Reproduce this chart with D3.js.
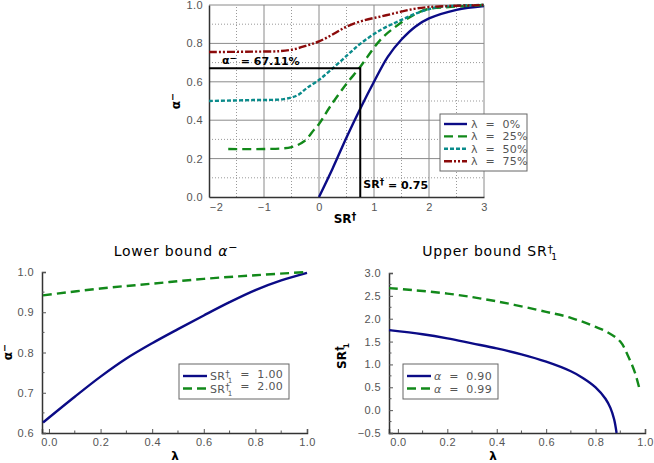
<!DOCTYPE html>
<html>
<head>
<meta charset="utf-8">
<title>Bounds</title>
<script src="https://d3js.org/d3.v7.min.js"></script>
<style>
 html, body { margin: 0; padding: 0; background: white; }
 svg { font-family: "DejaVu Sans", sans-serif; }
 .tick-label { fill: #555; font-size: 11px; letter-spacing: 0.4px; }
 .axis-title { fill: #000; font-size: 12px; font-weight: bold; }
 .plot-title { fill: #000; font-size: 14px; letter-spacing: 0.8px; }
 .legend-text { fill: #555; font-size: 11px; letter-spacing: 0.3px; }
</style>
</head>
<body>
<svg id="chart" width="654" height="463"></svg>
<script>
// ---- top chart: alpha- vs SR† for several lambda ----
const lambdaNames = ["0%", "25%", "50%", "75%"];
const srX0   = [0, 0.25, 0.5, 0.75, 1, 1.25, 1.5, 1.75, 2, 2.5, 3];
const alpha0 = [0, 0.15, 0.31, 0.46, 0.60, 0.73, 0.82, 0.887, 0.93, 0.975, 0.995];
const srX25   = [-1.65, -1.0, -0.5, -0.27, -0.09, 0, 0.2, 0.5, 0.73, 0.88, 1.12, 1.36, 1.73, 2, 2.4, 3];
const alpha25 = [0.25, 0.25, 0.26, 0.29, 0.35, 0.38, 0.47, 0.59, 0.67, 0.73, 0.82, 0.88, 0.95, 0.98, 0.99, 1.0];
const srX50   = [-2, -1.2, -0.64, -0.39, -0.21, 0, 0.21, 0.52, 0.76, 1.12, 1.48, 1.85, 2.2, 3];
const alpha50 = [0.50, 0.505, 0.51, 0.53, 0.57, 0.61, 0.66, 0.74, 0.80, 0.87, 0.92, 0.965, 0.99, 1.0];
const srX75   = [-2, -1.2, -0.7, -0.45, -0.21, 0, 0.27, 0.52, 0.82, 1.12, 1.42, 1.73, 2.03, 3];
const alpha75 = [0.755, 0.757, 0.76, 0.77, 0.79, 0.81, 0.85, 0.89, 0.92, 0.94, 0.96, 0.98, 0.99, 1.0];
const markSR = 0.75, markAlpha = 0.6711;

// ---- bottom left: lower bound alpha- vs lambda ----
const lamBL   = [-0.023, 0.1, 0.2, 0.3, 0.4, 0.5, 0.6, 0.7, 0.8, 0.9, 1.0];
const lowSR1  = [0.626, 0.69, 0.74, 0.785, 0.823, 0.858, 0.892, 0.925, 0.955, 0.979, 0.998];
const lamBL2  = [-0.023, 0.2, 0.4, 0.6, 0.8, 1.0];
const lowSR2  = [0.942, 0.959, 0.971, 0.983, 0.992, 1.0];

// ---- bottom right: upper bound SR†1 vs lambda ----
const lamBR1  = [-0.036, 0.1, 0.2, 0.3, 0.4, 0.5, 0.6, 0.7, 0.75, 0.8, 0.84, 0.86, 0.875, 0.885];
const up90    = [1.75, 1.66, 1.57, 1.46, 1.35, 1.22, 1.06, 0.85, 0.70, 0.50, 0.25, 0.05, -0.2, -0.5];
const lamBR2  = [-0.036, 0.2, 0.4, 0.6, 0.7, 0.8, 0.85, 0.9, 0.93, 0.96, 0.98];
const up99    = [2.67, 2.55, 2.38, 2.15, 2.02, 1.82, 1.70, 1.50, 1.20, 0.81, 0.41];

const navy = "#0b0b86", green = "#12891a", teal = "#0a8b8b", darkred = "#8b0a0a";
const fmt1 = v => d3.format(".1f")(v).replace("-", "\u2212");

const svg = d3.select("#chart");

// helper: SR with dagger (and optional subscript 1)
function srText(sel, sub) {
  sel.append("tspan").text("SR");
  sel.append("tspan").text("\u2020").attr("font-size", "0.8em").attr("dy", "-0.3em");
  if (sub) sel.append("tspan").text("1").attr("font-size", "0.65em").attr("dx", "-0.3em").attr("dy", "0.8em");
}

// ================= TOP =================
{
  const x = d3.scaleLinear().domain([-2, 3]).range([209, 484]);
  const y = d3.scaleLinear().domain([0, 1]).range([197, 5]);
  const g = svg.append("g");

  // minor dotted grid
  g.selectAll(".vminor").data(d3.range(-1.5, 3, 1)).join("line")
    .attr("x1", d => x(d)).attr("x2", d => x(d)).attr("y1", y(0)).attr("y2", y(1))
    .attr("stroke", "#999").attr("stroke-dasharray", "1,2");
  g.selectAll(".hminor").data(d3.range(0.1, 1, 0.2)).join("line")
    .attr("x1", x(-2)).attr("x2", x(3)).attr("y1", d => y(d)).attr("y2", d => y(d))
    .attr("stroke", "#999").attr("stroke-dasharray", "1,2");
  // major grid
  g.selectAll(".vmajor").data(d3.range(-1, 3.5, 1)).join("line")
    .attr("x1", d => x(d)).attr("x2", d => x(d)).attr("y1", y(0)).attr("y2", y(1))
    .attr("stroke", "#8a8a8a");
  g.selectAll(".hmajor").data([0.2, 0.4, 0.6, 0.8, 1.0]).join("line")
    .attr("x1", x(-2)).attr("x2", x(3)).attr("y1", d => y(d)).attr("y2", d => y(d))
    .attr("stroke", "#8a8a8a");

  // axes
  const xa = g.append("g").attr("transform", `translate(0,${y(0)})`)
    .call(d3.axisBottom(x).tickValues(d3.range(-2, 3.5, 1)).tickSize(0).tickPadding(6)
      .tickFormat(d => String(d).replace("-", "\u2212")));
  xa.select(".domain").attr("stroke", "#333").attr("stroke-width", 1.5);
  xa.selectAll("text").attr("class", "tick-label").attr("font-family", null).attr("font-size", null);
  xa.selectAll("text").filter(d => d === -2).attr("dx", 7);
  const ya = g.append("g").attr("transform", `translate(${x(-2)},0)`)
    .call(d3.axisLeft(y).tickValues(d3.range(0, 1.01, 0.2)).tickSize(0).tickPadding(6).tickFormat(fmt1));
  ya.select(".domain").attr("stroke", "#333").attr("stroke-width", 1.5);
  ya.selectAll("text").attr("class", "tick-label").attr("font-family", null).attr("font-size", null);

  // curves
  const series = [
    {xs: srX0, ys: alpha0, c: navy, dash: null},
    {xs: srX25, ys: alpha25, c: green, dash: "9,5"},
    {xs: srX50, ys: alpha50, c: teal, dash: "4,2"},
    {xs: srX75, ys: alpha75, c: darkred, dash: "8,2,2,2,2,2"}
  ];
  const line = d3.line().x(d => x(d[0])).y(d => y(d[1])).curve(d3.curveCatmullRom.alpha(0.5));
  series.forEach(s => {
    g.append("path").datum(d3.zip(s.xs, s.ys)).attr("d", line)
      .attr("fill", "none").attr("stroke", s.c).attr("stroke-width", 2.4)
      .attr("stroke-dasharray", s.dash);
  });

  // marker lines
  g.append("path")
    .attr("d", `M${x(-2)},${y(markAlpha)}H${x(markSR)}V${y(0)}`)
    .attr("fill", "none").attr("stroke", "#000").attr("stroke-width", 2);
  const t1 = g.append("text").attr("x", 222).attr("y", y(markAlpha) - 4)
    .attr("font-size", 11).attr("font-weight", "bold");
  t1.append("tspan").text("\u03b1");
  t1.append("tspan").text("\u2212").attr("font-size", "0.8em").attr("dy", "-0.4em");
  t1.append("tspan").text(" = " + (markAlpha * 100).toFixed(2) + "%").attr("dy", "0.4em");
  const t2 = g.append("text").attr("x", x(markSR) + 3).attr("y", 188)
    .attr("font-size", 11).attr("font-weight", "bold");
  srText(t2, false);
  t2.append("tspan").text(" = " + markSR.toFixed(2)).attr("dy", "0.3em");

  // axis titles
  const xt = g.append("text").attr("class", "axis-title").attr("x", 345).attr("y", 223).attr("text-anchor", "middle");
  srText(xt, false);
  const yt = g.append("text").attr("class", "axis-title")
    .attr("transform", `translate(${180},${101}) rotate(-90)`).attr("text-anchor", "middle");
  yt.append("tspan").text("\u03b1");
  yt.append("tspan").text("\u2212").attr("font-size", "0.8em").attr("dy", "-0.4em");

  // legend
  const lg = g.append("g").attr("transform", "translate(440,114)");
  lg.append("rect").attr("width", 87).attr("height", 57).attr("fill", "white").attr("stroke", "#666");
  series.forEach((s, i) => {
    const yy = 10 + i * 12.4;
    lg.append("line").attr("x1", 4).attr("x2", 27).attr("y1", yy).attr("y2", yy)
      .attr("stroke", s.c).attr("stroke-width", 2.4).attr("stroke-dasharray", s.dash);
    lg.append("text").attr("class", "legend-text").attr("x", 31).attr("y", yy + 4)
      .attr("xml:space", "preserve").text("\u03bb  =  " + lambdaNames[i]);
  });
}

// ============ bottom panel helper ============
function panel(opt) {
  const x = d3.scaleLinear().domain(opt.xd).range(opt.xr);
  const y = d3.scaleLinear().domain(opt.yd).range(opt.yr);
  const g = svg.append("g");

  const xa = g.append("g").attr("transform", `translate(0,${opt.yr[0]})`)
    .call(d3.axisBottom(x).tickValues(d3.range(0, 1.01, 0.2)).tickSize(-4).tickPadding(5).tickFormat(fmt1));
  xa.selectAll(".tick line").attr("stroke", "#555");
  xa.selectAll(".tick text").attr("dy", "0.71em").attr("y", 5);
  xa.selectAll(".minor").data(d3.range(0.1, 1, 0.2)).join("line")
    .attr("x1", d => x(d)).attr("x2", d => x(d)).attr("y1", 0).attr("y2", -2.5).attr("stroke", "#555");
  const ya = g.append("g").attr("transform", `translate(${opt.xr[0]},0)`)
    .call(d3.axisLeft(y).tickValues(opt.yt).tickSize(-4).tickPadding(8).tickFormat(fmt1));
  ya.selectAll(".tick line").attr("stroke", "#555");
  ya.selectAll(".minor").data(opt.ym).join("line")
    .attr("x1", 0).attr("x2", 2.5).attr("y1", d => y(d)).attr("y2", d => y(d)).attr("stroke", "#555");
  [xa, ya].forEach(a => {
    a.select(".domain").attr("stroke", "#333").attr("stroke-width", 1.5);
    a.selectAll("text").attr("class", "tick-label").attr("font-family", null).attr("font-size", null);
  });

  const line = d3.line().x(d => x(d[0])).y(d => y(d[1])).curve(d3.curveCatmullRom.alpha(0.5));
  opt.series.forEach(s => {
    g.append("path").datum(d3.zip(s.xs, s.ys)).attr("d", line)
      .attr("fill", "none").attr("stroke", s.c).attr("stroke-width", 2.4)
      .attr("stroke-dasharray", s.dash);
  });

  // titles
  const tt = g.append("text").attr("class", "plot-title").attr("x", opt.tx).attr("y", 256).attr("text-anchor", "middle");
  opt.title(tt);
  g.append("text").attr("class", "axis-title").attr("x", opt.lx).attr("y", 460).attr("text-anchor", "middle").text("\u03bb");
  const yt = g.append("text").attr("class", "axis-title")
    .attr("transform", `translate(${opt.ytx},${opt.yty}) rotate(-90)`).attr("text-anchor", "middle");
  opt.ytitle(yt);

  // legend
  const lg = g.append("g").attr("transform", `translate(${opt.leg[0]},${opt.leg[1]})`);
  lg.append("rect").attr("width", opt.leg[2]).attr("height", 35).attr("fill", "white").attr("stroke", "#666");
  opt.series.forEach((s, i) => {
    const yy = 12 + i * 12.5;
    lg.append("line").attr("x1", 4).attr("x2", 28).attr("y1", yy).attr("y2", yy)
      .attr("stroke", s.c).attr("stroke-width", 2.4).attr("stroke-dasharray", s.dash);
    const t = lg.append("text").attr("class", "legend-text").attr("x", 31).attr("y", yy + 4)
      .attr("xml:space", "preserve");
    s.label(t);
  });
}

panel({
  xd: [-0.027, 1.0], xr: [42, 307], yd: [0.6, 1.0], yr: [433, 272],
  yt: d3.range(0.6, 1.001, 0.1), ym: d3.range(0.65, 1, 0.1),
  series: [
    {xs: lamBL, ys: lowSR1, c: navy, dash: null,
     label: t => { srText(t, true); t.append("tspan").text("  =  1.00").attr("dy", "-0.5em"); }},
    {xs: lamBL2, ys: lowSR2, c: green, dash: "9,5",
     label: t => { srText(t, true); t.append("tspan").text("  =  2.00").attr("dy", "-0.5em"); }}
  ],
  tx: 176, lx: 175,
  title: t => {
    t.append("tspan").text("Lower bound ");
    t.append("tspan").text("\u03b1").attr("font-style", "italic");
    t.append("tspan").text("\u2212").attr("font-size", "0.8em").attr("dy", "-0.45em");
  },
  ytx: 12, yty: 352,
  ytitle: t => {
    t.append("tspan").text("\u03b1");
    t.append("tspan").text("\u2212").attr("font-size", "0.8em").attr("dy", "-0.4em");
  },
  leg: [179, 364, 110]
});

panel({
  xd: [-0.036, 1.0], xr: [389, 645], yd: [-0.5, 3.0], yr: [433, 273],
  yt: d3.range(-0.5, 3.001, 0.5), ym: d3.range(-0.25, 3, 0.5),
  series: [
    {xs: lamBR1, ys: up90, c: navy, dash: null,
     label: t => { t.append("tspan").text("\u03b1").attr("font-style", "italic"); t.append("tspan").text("  =  0.90"); }},
    {xs: lamBR2, ys: up99, c: green, dash: "9,5",
     label: t => { t.append("tspan").text("\u03b1").attr("font-style", "italic"); t.append("tspan").text("  =  0.99"); }}
  ],
  tx: 490, lx: 493,
  title: t => {
    t.append("tspan").text("Upper bound ");
    srText(t, true);
  },
  ytx: 346, yty: 356,
  ytitle: t => srText(t, true),
  leg: [403, 364, 95]
});
</script>
</body>
</html>
